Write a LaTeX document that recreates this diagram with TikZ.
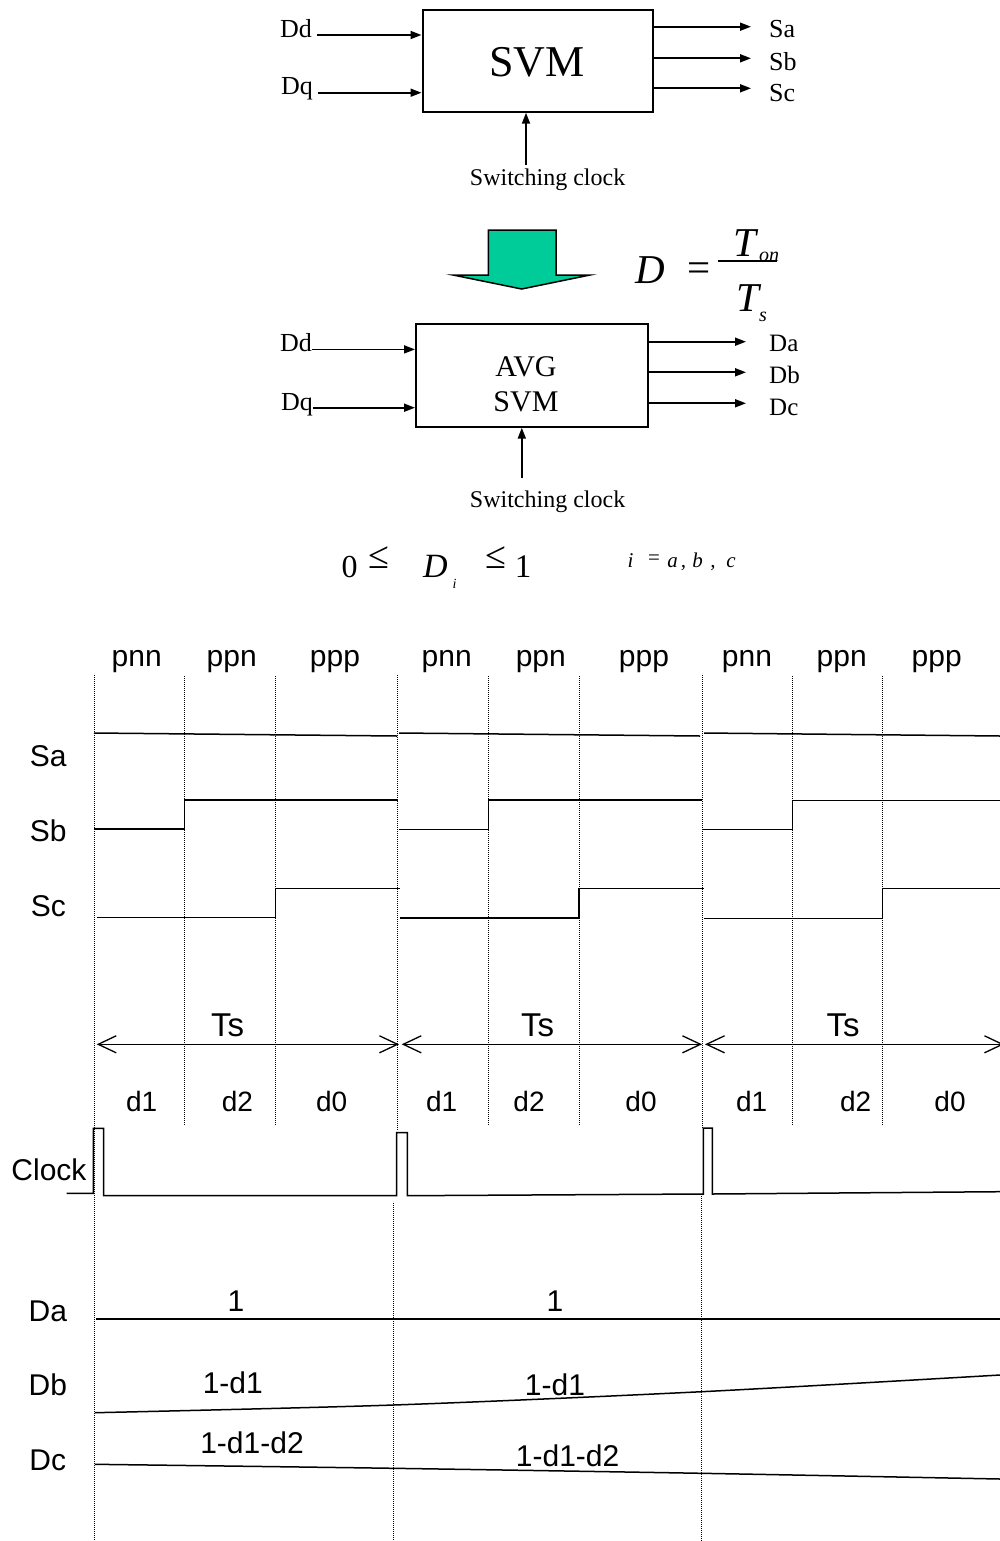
\documentclass[tikz,border=0pt]{standalone}
\usepackage{fontspec}
\setmainfont{Liberation Serif}
\newfontfamily\arialf{Liberation Sans}
\usetikzlibrary{arrows.meta}
\definecolor{arrowgreen}{RGB}{0,204,153}
\newcommand{\myfs}[1]{\fontsize{#1}{#1}\selectfont}
\begin{document}
\begin{tikzpicture}[x=1pt,y=-1pt,
  lbl/.style={inner sep=0pt, font=\myfs{26}},
  arr/.style={line width=1.8pt, -{Triangle[length=11pt,width=8pt]}},
  blk/.style={draw, line width=2pt, inner sep=0pt},
  ar/.style={inner sep=0pt, font=\arialf\myfs{30}},
  sig/.style={line width=1.5pt},
  dots/.style={line width=0.9pt, dash pattern=on 1pt off 1pt},
  tsarr/.style={line width=1.3pt, {Straight Barb[length=18pt,width=17pt]}-{Straight Barb[length=18pt,width=17pt]}}
]
\useasboundingbox (0,0) rectangle (1000,1541);

% ---------------- top block ----------------
\node[blk, minimum width=230.4pt, minimum height=101.7pt] (svm) at (537.7,60.85) {};
\node[inner sep=0pt, font=\myfs{44}, anchor=base] (svmtxt) at (536.8,76.7) {SVM};
\node[lbl, anchor=base] (dd1) at (296,37.3) {Dd};
\node[lbl, anchor=base] (dq1) at (297,95) {Dq};
\draw[arr] ([xshift=5pt]dd1.mid east) -- (dd1.mid east -| svm.west);
\draw[arr] ([xshift=5pt]dq1.mid east) -- (dq1.mid east -| svm.west);
\node[lbl, anchor=base west] (sa1) at (769,37.3) {Sa};
\node[lbl, anchor=base west] (sb1) at (769,70.2) {Sb};
\node[lbl, anchor=base west] (sc1) at (769,101.5) {Sc};
\coordinate (saT) at (751,26.7);
\coordinate (sbT) at (751,58.3);
\coordinate (scT) at (751,88.3);
\draw[arr] (saT -| svm.east) -- (saT);
\draw[arr] (sbT -| svm.east) -- (sbT);
\draw[arr] (scT -| svm.east) -- (scT);
\node[inner sep=0pt, font=\myfs{24}, anchor=base] (sw1) at (547.6,185.5) {Switching clock};
\coordinate (clk1) at (526,165);
\draw[arr] (clk1) -- (clk1 |- svm.south);

% ---------------- green arrow + formula ----------------
\draw[line width=1.5pt, fill=arrowgreen] (488.3,230) -- (556,230) -- (556,275) -- (590,275) -- (521.7,289) -- (453,275) -- (488.3,275) -- cycle;
\node[inner sep=0pt, font=\itshape\myfs{41}, anchor=base] (dfrm) at (650,283.3) {D};
\node[inner sep=0pt, font=\myfs{41}, anchor=base] (eqfrm) at (699,281) {=};
\draw[line width=1.5pt] (718,261) -- (777,261);
\node[inner sep=0pt, font=\itshape\myfs{41}, anchor=base] (tonT) at (745,256.7) {T};
\node[inner sep=0pt, font=\itshape\myfs{20}, anchor=base west] (tonS) at (759,261) {on};
\node[inner sep=0pt, font=\itshape\myfs{41}, anchor=base] (tsT) at (748,311.7) {T};
\node[inner sep=0pt, font=\itshape\myfs{20}, anchor=base west] (tsS) at (759,321) {s};

% ---------------- second block ----------------
\node[blk, minimum width=231.5pt, minimum height=102.4pt] (avg) at (531.75,375.5) {};
\node[inner sep=0pt, font=\myfs{30}, anchor=base] (avgt) at (526,376.7) {AVG};
\node[inner sep=0pt, font=\myfs{30}, anchor=base] (avgs) at (526,411.7) {SVM};
\node[lbl, anchor=base] (dd2) at (296,351.7) {Dd};
\node[lbl, anchor=base] (dq2) at (297,410) {Dq};
\draw[arr] (dd2.mid east) -- (dd2.mid east -| avg.west);
\draw[arr] (dq2.mid east) -- (dq2.mid east -| avg.west);
\node[lbl, font=\myfs{25}, anchor=base west] (da2) at (769,351.7) {Da};
\node[lbl, font=\myfs{25}, anchor=base west] (db2) at (769,383.3) {Db};
\node[lbl, font=\myfs{25}, anchor=base west] (dc2) at (769,415) {Dc};
\coordinate (daT) at (746,341.7);
\coordinate (dbT) at (746,372.3);
\coordinate (dcT) at (746,403.3);
\draw[arr] (daT -| avg.east) -- (daT);
\draw[arr] (dbT -| avg.east) -- (dbT);
\draw[arr] (dcT -| avg.east) -- (dcT);
\node[inner sep=0pt, font=\myfs{24}, anchor=base] (sw2) at (547.6,507.5) {Switching clock};
\coordinate (clk2) at (521.8,478);
\draw[arr] (clk2) -- (clk2 |- avg.south);

% ---------------- inequality ----------------
\node[inner sep=0pt, font=\myfs{32}, anchor=base] (zero) at (349.5,577) {0};
\node[inner sep=0pt, font=\myfs{38}, anchor=base] (le1) at (378.5,568) {≤};
\node[inner sep=0pt, font=\itshape\myfs{34}, anchor=base] (dii) at (435.5,577) {D};
\node[inner sep=0pt, font=\itshape\myfs{14}, anchor=base] (dsub) at (454.5,588) {i};
\node[inner sep=0pt, font=\myfs{38}, anchor=base] (le2) at (495.5,568) {≤};
\node[inner sep=0pt, font=\myfs{33}, anchor=base] (one) at (523,577) {1};
\node[inner sep=0pt, font=\itshape\myfs{21}, anchor=base] (ii) at (630.5,567) {i};
\node[inner sep=0pt, font=\myfs{21}, anchor=base] (ieq) at (654,564) {=};
\node[inner sep=0pt, font=\itshape\myfs{21}, anchor=base] (ia) at (672.5,567) {a};
\node[inner sep=0pt, font=\itshape\myfs{21}, anchor=base] (ic1) at (683.5,567) {,};
\node[inner sep=0pt, font=\itshape\myfs{21}, anchor=base] (ib) at (697.5,567) {b};
\node[inner sep=0pt, font=\itshape\myfs{21}, anchor=base] (ic2) at (713,567) {,};
\node[inner sep=0pt, font=\itshape\myfs{21}, anchor=base] (ic) at (731,567) {c};

% ---------------- dotted grid ----------------
\draw[dots] (94,675) -- (94,1541);
\foreach \x in {184.3,275,488.3,579,792.7,882.7}{\draw[dots] (\x,676) -- (\x,1125);}
\draw[dots] (397.7,675) -- (397.7,1131);
\draw[dots] (702,675) -- (702,1128);
\draw[dots] (393.5,1203) -- (393.5,1541);
\draw[dots] (701.2,1196) -- (701.2,1541);

% ---------------- state labels ----------------
\foreach \x/\t in {136.7/pnn,231.7/ppn,335/ppp,446.7/pnn,540.8/ppn,644/ppp,747/pnn,841.7/ppn,936.7/ppp}{
  \node[ar, anchor=base] at (\x,666) {\t};
}

% ---------------- switching signals ----------------
\node[ar, anchor=base] (salbl) at (48.3,766.7) {Sa};
\node[ar, anchor=base] (sblbl) at (48.3,841.7) {Sb};
\node[ar, anchor=base] (sclbl) at (48.3,916) {Sc};
\draw[sig] (94,733) -- (397,736);
\draw[sig] (399,733) -- (700,736);
\draw[sig] (704,733) -- (1000,736);
\draw[sig] (94,829) -- (184.3,829) -- (184.3,800) -- (397.7,800);
\draw[sig] (398.5,829.3) -- (488.3,829.3) -- (488.3,800) -- (702,800);
\draw[sig] (702.5,829.3) -- (792.7,829.3) -- (792.7,800.5) -- (1000,800.5);
\draw[sig] (96.7,917.3) -- (275.5,917.3) -- (275.5,888.3) -- (400,888.3);
\draw[sig] (400,917.8) -- (579,917.8) -- (579,888.3) -- (704,888.3);
\draw[sig] (704,918.3) -- (882.7,918.3) -- (882.7,888.3) -- (1000,888.3);

% ---------------- Ts arrows ----------------
\coordinate (ts0) at (96.7,1044.3);
\coordinate (ts1a) at (399,1044.3);
\coordinate (ts1b) at (401.7,1044.3);
\coordinate (ts2a) at (702,1044.3);
\coordinate (ts2b) at (705,1044.3);
\coordinate (ts3) at (1004,1044.3);
\draw[tsarr] (ts0) -- (ts1a);
\draw[tsarr] (ts1b) -- (ts2a);
\draw[tsarr] (ts2b) -- (ts3);
\node[ar, font=\arialf\myfs{33}, anchor=base] (tsl1) at (227.5,1036.7) {Ts};
\node[ar, font=\arialf\myfs{33}, anchor=base] (tsl2) at (537.5,1036.7) {Ts};
\node[ar, font=\arialf\myfs{33}, anchor=base] (tsl3) at (843,1036.7) {Ts};
\foreach \x/\t in {141.7/d1,237.5/d2,331.7/d0,441.7/d1,529/d2,641/d0,751.7/d1,855.7/d2,950/d0}{
  \node[ar, font=\arialf\myfs{28}, anchor=base] at (\x,1111.7) {\t};
}

% ---------------- clock ----------------
\node[ar, anchor=base] (clklbl) at (49,1180) {Clock};
\draw[sig] (66.7,1193.3) -- (93.3,1193.3) -- (93.3,1128.3) -- (103.7,1128.3) -- (103.7,1195.7)
  -- (396.7,1195.7) -- (396.7,1132.7) -- (407.3,1132.7) -- (407.3,1195.7)
  -- (703.3,1194) -- (703.3,1128) -- (712.3,1128) -- (712.3,1194) -- (1000,1191.7);

% ---------------- averaged duty ----------------
\node[ar, anchor=base] (dalbl) at (47.8,1321.7) {Da};
\node[ar, anchor=base] (dblbl) at (47.8,1395) {Db};
\node[ar, anchor=base] (dclbl) at (47.8,1470.7) {Dc};
\draw[sig] (95.7,1319) -- (1000,1319);
\draw[sig] plot[smooth] coordinates {(95,1412.7) (393.5,1405) (701.5,1391.7) (1000,1375)};
\draw[sig] plot[smooth] coordinates {(95,1464.3) (393.5,1468.3) (701.5,1473.3) (1000,1479)};
\node[ar, anchor=base] (one1) at (236,1311.7) {1};
\node[ar, anchor=base] (one2) at (555,1311.7) {1};
\node[ar, anchor=base] (od1a) at (232.8,1393.3) {1-d1};
\node[ar, anchor=base] (od1b) at (555,1395) {1-d1};
\node[ar, anchor=base] (od2a) at (252,1453.3) {1-d1-d2};
\node[ar, anchor=base] (od2b) at (567.6,1466.7) {1-d1-d2};
\end{tikzpicture}
\end{document}
